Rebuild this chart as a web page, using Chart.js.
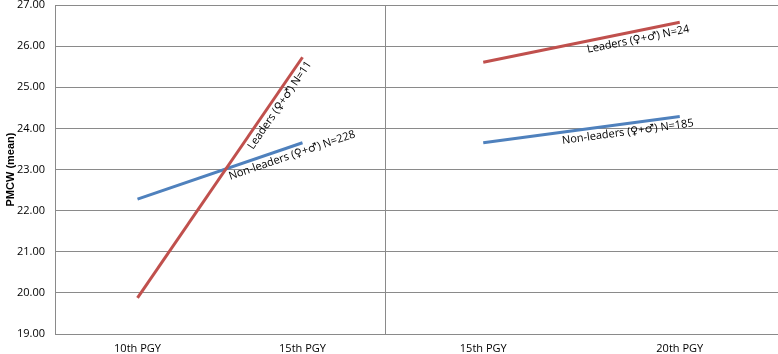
<!DOCTYPE html>
<html>
<head>
<meta charset="utf-8">
<script src="https://cdn.jsdelivr.net/npm/chart.js@4.4.1/dist/chart.umd.min.js"></script>
<style>
  html, body { margin: 0; padding: 0; background: #fff; }
  #wrap { position: relative; width: 778px; height: 354px; overflow: hidden; }
  #leftBox { position: absolute; left: 0; top: 0; width: 385px; height: 354px; }
  #rightBox { position: absolute; left: 384px; top: 0; width: 394px; height: 354px; }
</style>
</head>
<body>
<div id="wrap">
  <div id="leftBox"><canvas id="leftChart"></canvas></div>
  <div id="rightBox"><canvas id="rightChart"></canvas></div>
</div>
<script>
// ── Data ──
const leftCategories = ['10th PGY', '15th PGY'];
const rightCategories = ['15th PGY', '20th PGY'];

const leftLeaders = [19.88, 25.73];
const leftNonLeaders = [22.28, 23.65];
const rightLeaders = [25.61, 26.58];
const rightNonLeaders = [23.65, 24.29];

const leftLabels = ['Leaders (♀+♂) N=11', 'Non-leaders (♀+♂) N=228'];
const rightLabels = ['Leaders (♀+♂) N=24', 'Non-leaders (♀+♂) N=185'];

const yMin = 19, yMax = 27, yStep = 1;
const yTitle = 'PMCW (mean)';

// ── Styles ──
const RED = '#C0504D';
const BLUE = '#4F81BD';
const GRID = '#8a8a8a';
const TEXT = '#000';
const FONT = "'Open Sans', 'DejaVu Sans', sans-serif";

Chart.defaults.font.family = FONT;
Chart.defaults.color = TEXT;

// ── Plugin: text laid along each line, just below it ──
const lineLabels = {
  id: 'lineLabels',
  afterDatasetsDraw(chart, args, opts) {
    const ctx = chart.ctx;
    chart.data.datasets.forEach((ds, i) => {
      const pts = chart.getDatasetMeta(i).data;
      if (pts.length < 2) return;
      const p0 = pts[0], p1 = pts[1];
      const t = opts.pos[i];
      const angle = Math.atan2(p1.y - p0.y, p1.x - p0.x);
      const cx = p0.x + (p1.x - p0.x) * t;
      const cy = p0.y + (p1.y - p0.y) * t;
      ctx.save();
      ctx.translate(cx, cy);
      ctx.rotate(angle);
      ctx.font = opts.font;
      ctx.fillStyle = TEXT;
      ctx.textAlign = 'center';
      ctx.textBaseline = 'top';
      ctx.fillText(ds.label, 0, opts.gap);
      ctx.restore();
    });
  }
};

function baseOptions(showY, labelPos) {
  return {
    responsive: true,
    maintainAspectRatio: false,
    animation: false,
    layout: { padding: { top: 5, left: showY ? 0 : 1, right: 0, bottom: 0 } },
    plugins: {
      legend: { display: false },
      tooltip: { enabled: false },
      lineLabels: { pos: labelPos, gap: 3, font: "11px " + FONT }
    },
    elements: {
      point: { radius: 0 },
      line: { borderWidth: 3, tension: 0 }
    },
    scales: {
      x: {
        type: 'category',
        offset: true,
        grid: { display: false, drawTicks: false },
        border: { display: true, color: GRID, width: 1 },
        ticks: { padding: 8, font: { size: 11 }, color: TEXT, maxRotation: 0 },
        afterFit: s => { s.height = 20; }
      },
      y: {
        min: yMin,
        max: yMax,
        grid: { color: GRID, lineWidth: 1, drawTicks: false },
        border: { display: true, color: GRID, width: 1 },
        title: {
          display: showY,
          text: yTitle,
          font: { size: 11, weight: 'bold', family: "'Liberation Sans Narrow', 'Liberation Sans', sans-serif" },
          color: TEXT,
          padding: { top: 4, bottom: 0 }
        },
        ticks: {
          display: showY,
          stepSize: yStep,
          padding: 10,
          font: { size: 11 },
          color: TEXT,
          callback: v => v.toFixed(2)
        },
        afterFit: s => {
          s.width = showY ? 55 : 0;
          s.paddingTop = 0;
          s.paddingBottom = 0;
        }
      }
    }
  };
}

new Chart(document.getElementById('leftChart'), {
  type: 'line',
  data: {
    labels: leftCategories,
    datasets: [
      { label: leftLabels[0], data: leftLeaders, borderColor: RED, backgroundColor: RED },
      { label: leftLabels[1], data: leftNonLeaders, borderColor: BLUE, backgroundColor: BLUE }
    ]
  },
  options: baseOptions(true, [0.82, 0.92]),
  plugins: [lineLabels]
});

new Chart(document.getElementById('rightChart'), {
  type: 'line',
  data: {
    labels: rightCategories,
    datasets: [
      { label: rightLabels[0], data: rightLeaders, borderColor: RED, backgroundColor: RED },
      { label: rightLabels[1], data: rightNonLeaders, borderColor: BLUE, backgroundColor: BLUE }
    ]
  },
  options: baseOptions(false, [0.78, 0.73]),
  plugins: [lineLabels]
});
</script>
</body>
</html>
